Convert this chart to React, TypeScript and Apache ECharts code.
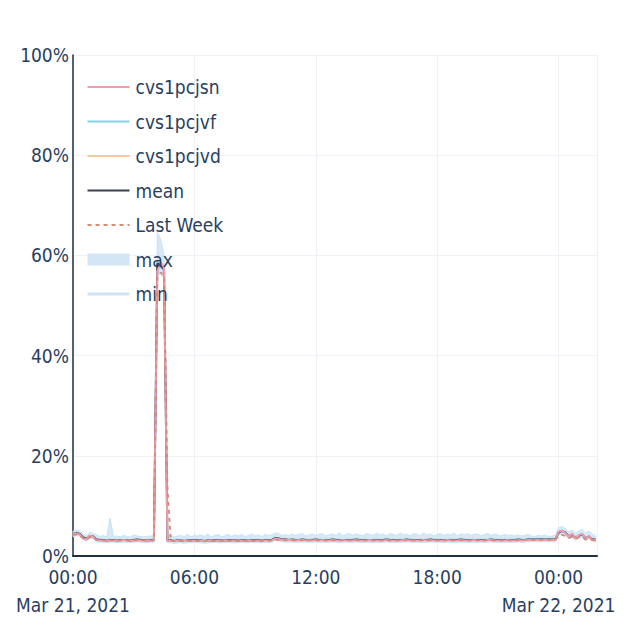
import React, { useEffect, useRef } from "react";
import * as echarts from "echarts";

// Sampling: every 10 minutes starting Mar 21, 2021 00:00 (hours since start)
const STEP_MINUTES = 10;
const X_MAX_HOURS = 25.9;

const xTickLabels: Record<number, string> = {
  0: "00:00\nMar 21, 2021",
  6: "06:00",
  12: "12:00",
  18: "18:00",
  24: "00:00\nMar 22, 2021",
};

const cvs1pcjsn = [
  4.6,4.5,4.3,3.5,3.3,4.1,3.8,3.2,3.1,3.1,3.1,3.1,
  3.1,3.1,3.1,3.2,3.1,3.1,3.1,3.2,3.1,3.1,3.1,3.1,
  3.1,56.8,58.6,57.6,3.0,3.0,3.0,3.0,3.1,3.0,3.0,3.0,
  3.1,3.0,3.0,3.0,3.0,3.1,3.1,3.0,3.0,3.1,3.1,3.0,
  3.0,3.1,3.1,3.0,3.1,3.1,3.0,3.1,3.1,3.1,3.1,3.1,
  3.5,3.4,3.2,3.2,3.2,3.2,3.1,3.2,3.2,3.1,3.2,3.1,
  3.2,3.1,3.2,3.1,3.1,3.2,3.1,3.1,3.2,3.1,3.1,3.1,
  3.2,3.1,3.1,3.1,3.2,3.1,3.1,3.1,3.1,3.2,3.1,3.1,
  3.1,3.1,3.2,3.2,3.1,3.1,3.1,3.1,3.2,3.1,3.2,3.1,
  3.1,3.1,3.1,3.2,3.1,3.1,3.1,3.2,3.1,3.1,3.1,3.2,
  3.1,3.1,3.1,3.2,3.2,3.1,3.1,3.1,3.1,3.2,3.1,3.1,
  3.2,3.1,3.2,3.2,3.2,3.2,3.2,3.2,3.2,3.2,3.2,3.2,
  4.9,5.1,4.6,3.8,4.5,3.5,4.2,4.4,3.4,4.0,3.3,3.1,
];

const cvs1pcjvf = [
  4.3,4.7,4.5,3.8,3.5,3.9,4.0,3.4,3.3,3.3,3.2,3.3,
  3.3,3.2,3.3,3.2,3.3,3.2,3.3,3.3,3.3,3.2,3.2,3.3,
  3.3,59.0,57.6,56.8,3.2,3.2,3.1,3.2,3.2,3.1,3.2,3.2,
  3.2,3.2,3.1,3.1,3.2,3.2,3.2,3.2,3.1,3.2,3.2,3.2,
  3.2,3.2,3.2,3.2,3.1,3.2,3.2,3.2,3.2,3.3,3.2,3.3,
  3.7,3.6,3.3,3.4,3.3,3.3,3.3,3.3,3.3,3.3,3.3,3.3,
  3.3,3.3,3.3,3.3,3.3,3.3,3.3,3.3,3.2,3.3,3.3,3.3,
  3.3,3.3,3.3,3.3,3.2,3.3,3.3,3.3,3.3,3.3,3.3,3.3,
  3.3,3.3,3.3,3.3,3.3,3.3,3.2,3.3,3.3,3.3,3.3,3.3,
  3.3,3.3,3.2,3.3,3.3,3.3,3.3,3.3,3.3,3.3,3.3,3.3,
  3.3,3.3,3.3,3.3,3.3,3.3,3.3,3.3,3.3,3.3,3.3,3.3,
  3.3,3.3,3.3,3.4,3.3,3.3,3.4,3.4,3.3,3.4,3.4,3.4,
  4.5,4.9,4.8,4.0,4.1,3.7,4.0,4.2,3.6,3.8,3.5,3.3,
];

const cvs1pcjvd = [
  4.6,4.6,4.4,3.8,3.4,4.0,3.9,3.3,3.2,3.2,3.1,3.2,
  3.2,3.1,3.2,3.2,3.2,3.1,3.2,3.3,3.2,3.2,3.2,3.2,
  3.2,58.4,57.8,57.4,3.1,3.1,3.1,3.1,3.1,3.1,3.1,3.1,
  3.2,3.1,3.1,3.1,3.1,3.1,3.1,3.1,3.1,3.1,3.1,3.1,
  3.1,3.1,3.1,3.1,3.1,3.1,3.1,3.2,3.1,3.1,3.2,3.2,
  3.6,3.5,3.3,3.3,3.2,3.2,3.2,3.2,3.3,3.2,3.2,3.2,
  3.2,3.2,3.2,3.2,3.2,3.2,3.2,3.2,3.2,3.2,3.2,3.2,
  3.2,3.2,3.2,3.2,3.2,3.2,3.2,3.2,3.2,3.2,3.2,3.2,
  3.2,3.2,3.2,3.2,3.2,3.2,3.2,3.2,3.2,3.2,3.2,3.2,
  3.2,3.2,3.2,3.2,3.2,3.2,3.2,3.2,3.2,3.2,3.2,3.2,
  3.2,3.2,3.2,3.2,3.2,3.2,3.2,3.2,3.2,3.2,3.2,3.2,
  3.3,3.2,3.2,3.3,3.3,3.3,3.3,3.3,3.3,3.3,3.3,3.3,
  4.7,5.0,4.7,3.9,4.3,3.6,4.1,4.3,3.5,3.9,3.4,3.2,
];

const meanValues = [
  4.5,4.6,4.4,3.7,3.4,4.0,3.9,3.3,3.2,3.2,3.1,3.2,
  3.2,3.1,3.2,3.2,3.2,3.1,3.2,3.3,3.2,3.2,3.1,3.2,
  3.2,58.4,58.0,57.2,3.1,3.1,3.0,3.1,3.1,3.0,3.1,3.1,
  3.2,3.1,3.1,3.0,3.1,3.1,3.2,3.1,3.1,3.1,3.2,3.1,
  3.1,3.1,3.2,3.1,3.1,3.2,3.1,3.2,3.1,3.2,3.2,3.2,
  3.6,3.5,3.3,3.3,3.2,3.3,3.2,3.2,3.3,3.2,3.2,3.2,
  3.3,3.2,3.2,3.2,3.2,3.3,3.2,3.2,3.2,3.2,3.2,3.2,
  3.3,3.2,3.2,3.2,3.2,3.2,3.2,3.2,3.2,3.3,3.2,3.2,
  3.2,3.2,3.2,3.3,3.2,3.2,3.2,3.2,3.2,3.2,3.3,3.2,
  3.2,3.2,3.2,3.2,3.2,3.2,3.2,3.3,3.2,3.2,3.2,3.2,
  3.2,3.2,3.2,3.2,3.3,3.2,3.2,3.2,3.2,3.2,3.2,3.2,
  3.3,3.2,3.2,3.3,3.3,3.3,3.3,3.3,3.3,3.3,3.3,3.3,
  4.7,5.0,4.7,3.9,4.3,3.6,4.1,4.3,3.5,3.9,3.4,3.2,
];

const lastWeekValues = [
  4.2,4.3,4.1,3.6,3.3,3.8,3.7,3.2,3.1,3.1,3.1,3.1,
  3.1,3.1,3.1,3.1,3.1,3.1,3.1,3.1,3.1,3.1,3.1,3.1,
  3.1,55.6,56.6,56.0,14.0,3.0,3.0,3.0,3.0,3.0,3.0,3.0,
  3.0,3.0,3.0,3.0,3.0,3.0,3.0,3.0,3.0,3.0,3.0,3.0,
  3.0,3.0,3.0,3.0,3.0,3.0,3.0,3.0,3.1,3.0,3.0,3.1,
  3.2,3.2,3.1,3.1,3.1,3.1,3.1,3.1,3.1,3.1,3.1,3.1,
  3.1,3.1,3.1,3.1,3.1,3.1,3.1,3.1,3.1,3.1,3.1,3.1,
  3.1,3.1,3.1,3.1,3.1,3.1,3.1,3.1,3.1,3.1,3.1,3.1,
  3.1,3.1,3.1,3.1,3.1,3.1,3.1,3.1,3.1,3.1,3.1,3.1,
  3.1,3.1,3.1,3.1,3.1,3.1,3.1,3.1,3.1,3.1,3.1,3.1,
  3.1,3.1,3.1,3.1,3.1,3.1,3.1,3.1,3.1,3.1,3.1,3.1,
  3.1,3.1,3.2,3.2,3.2,3.2,3.2,3.2,3.2,3.2,3.2,3.2,
  4.0,4.2,4.0,3.6,3.8,3.4,3.7,3.8,3.3,3.5,3.2,3.1,
];

const maxValues = [
  5.0,5.2,5.0,4.4,4.0,4.7,4.5,4.2,3.9,4.1,3.8,7.6,
  3.9,4.0,3.8,4.1,3.9,3.8,4.2,4.0,3.9,3.8,3.9,4.0,
  4.1,64.6,63.2,60.2,3.9,4.2,3.8,4.0,4.1,3.9,4.3,3.8,
  4.1,4.0,4.2,3.9,4.4,3.8,4.1,4.3,3.9,4.0,4.4,3.9,
  4.2,4.0,4.3,3.9,4.1,4.4,4.0,4.2,3.9,4.3,4.1,4.2,
  4.6,4.5,4.1,4.3,4.0,4.4,4.1,4.3,4.5,4.0,4.2,4.4,
  4.1,4.3,4.5,4.0,4.2,4.4,4.1,4.6,4.0,4.3,4.5,4.1,
  4.4,4.2,4.0,4.5,4.3,4.1,4.6,4.2,4.4,4.0,4.5,4.3,
  4.1,4.6,4.2,4.4,4.0,4.5,4.3,4.1,4.6,4.2,4.4,4.0,
  4.3,4.5,4.1,4.4,4.2,4.6,4.0,4.4,4.2,4.5,4.1,4.3,
  4.4,4.0,4.3,4.5,4.1,4.4,4.2,4.0,4.3,4.1,4.2,4.0,
  4.2,4.0,4.1,4.3,4.0,3.9,4.1,4.0,4.2,3.9,4.0,4.1,
  5.6,5.9,5.5,4.8,5.2,4.6,5.0,5.3,4.5,5.0,4.4,4.0,
];

const minValues = [
  3.9,4.2,4.0,3.3,3.0,3.6,3.5,2.9,2.8,2.8,2.7,2.8,
  2.8,2.7,2.8,2.8,2.8,2.7,2.8,2.9,2.8,2.8,2.7,2.8,
  2.8,56.4,56.2,55.6,2.7,2.7,2.6,2.7,2.7,2.6,2.7,2.7,
  2.8,2.7,2.7,2.6,2.7,2.7,2.8,2.7,2.7,2.7,2.8,2.7,
  2.7,2.7,2.8,2.7,2.7,2.8,2.7,2.8,2.7,2.8,2.8,2.8,
  3.2,3.1,2.9,2.9,2.8,2.9,2.8,2.8,2.9,2.8,2.8,2.8,
  2.9,2.8,2.8,2.8,2.8,2.9,2.8,2.8,2.8,2.8,2.8,2.8,
  2.9,2.8,2.8,2.8,2.8,2.8,2.8,2.8,2.8,2.9,2.8,2.8,
  2.8,2.8,2.8,2.9,2.8,2.8,2.8,2.8,2.8,2.8,2.9,2.8,
  2.8,2.8,2.8,2.8,2.8,2.8,2.8,2.9,2.8,2.8,2.8,2.8,
  2.8,2.8,2.8,2.8,2.9,2.8,2.8,2.8,2.8,2.8,2.8,2.8,
  2.9,2.8,2.8,2.9,2.9,2.9,2.9,2.9,2.9,2.9,2.9,2.9,
  4.2,4.5,4.2,3.5,3.8,3.2,3.7,3.8,3.1,3.5,3.0,2.8,
];

const FONT = '"DejaVu Sans Condensed", "DejaVu Sans", sans-serif';
const TEXT_COLOR = "#2a3f5f";
const BAND_COLOR = "#d3e6f6";

const hours = meanValues.map((_, i) => (i * STEP_MINUTES) / 60);
const toPairs = (vals: number[]) => vals.map((v, i) => [hours[i], v]);

export default function App() {
  const ref = useRef<HTMLDivElement>(null);
  useEffect(() => {
    document.body.style.margin = "0";
    if (!ref.current) return;
    const chart = echarts.init(ref.current, null, { renderer: "svg" });
    const lineSeries = (name: string, vals: number[], color: string, width: number, dash?: number[]) => ({
      name,
      type: "line",
      data: toPairs(vals),
      showSymbol: false,
      symbol: "none",
      color,
      lineStyle: { color, width, type: dash || "solid" },
      z: 3,
    });
    chart.setOption({
      animation: false,
      backgroundColor: "#ffffff",
      grid: { left: 73, right: 43, top: 55, bottom: 84 },
      legend: {
        orient: "vertical",
        left: 81,
        top: 71,
        itemWidth: 42,
        itemHeight: 12,
        itemGap: 12.5,
        selectedMode: false,
        itemStyle: { opacity: 0 },
        textStyle: {
          fontFamily: FONT,
          fontSize: 19,
          lineHeight: 22,
          color: TEXT_COLOR,
          padding: [0, 0, 0, 1],
        },
        data: [
          { name: "cvs1pcjsn" },
          { name: "cvs1pcjvf" },
          { name: "cvs1pcjvd" },
          { name: "mean" },
          { name: "Last Week" },
          { name: "max", icon: "rect", itemStyle: { color: BAND_COLOR, opacity: 1 } },
          { name: "min", lineStyle: { width: 3 } },
        ],
      },
      xAxis: {
        type: "value",
        min: 0,
        max: X_MAX_HOURS,
        interval: 6,
        axisLine: { show: true, onZero: false, lineStyle: { color: "#1e2f3f", width: 2 } },
        axisTick: { show: false },
        splitLine: { show: true, lineStyle: { color: "#eef1f5", width: 1 } },
        axisLabel: {
          fontFamily: FONT,
          fontSize: 19,
          lineHeight: 28,
          margin: 7,
          color: TEXT_COLOR,
          showMaxLabel: false,
          formatter: (v: number) => xTickLabels[v] ?? "",
        },
      },
      yAxis: {
        type: "value",
        min: 0,
        max: 100,
        interval: 20,
        axisLine: { show: true, lineStyle: { color: "#1e2f3f", width: 1.5 } },
        axisTick: { show: false },
        splitLine: { show: true, lineStyle: { color: "#eef1f5", width: 1 } },
        axisLabel: {
          fontFamily: FONT,
          fontSize: 19,
          margin: 4,
          color: TEXT_COLOR,
          formatter: "{value}%",
        },
      },
      series: [
        {
          name: "max",
          type: "custom",
          data: toPairs(maxValues),
          itemStyle: { color: BAND_COLOR },
          z: 1,
          silent: true,
          renderItem: (params: any, api: any) => {
            if (params.dataIndex !== 0) return null;
            const top = hours.map((h, i) => api.coord([h, maxValues[i]]));
            const bottom = hours.map((h, i) => api.coord([h, minValues[i]])).reverse();
            return {
              type: "polygon",
              shape: { points: top.concat(bottom) },
              style: { fill: "rgba(196,224,245,0.7)", stroke: "rgba(196,224,245,0.9)", lineWidth: 1 },
            };
          },
        },
        {
          name: "min",
          type: "line",
          data: toPairs(minValues),
          showSymbol: false,
          symbol: "none",
          color: "#cfe3f3",
          lineStyle: { color: "#cfe3f3", width: 1.5 },
          z: 2,
        },
        lineSeries("cvs1pcjvd", cvs1pcjvd, "#f6c9a2", 1.5),
        lineSeries("cvs1pcjvf", cvs1pcjvf, "#7fd5e4", 1.5),
        lineSeries("mean", meanValues, "#3a4150", 2),
        lineSeries("cvs1pcjsn", cvs1pcjsn, "#f09db3", 2),
        lineSeries("Last Week", lastWeekValues, "#d98a6e", 1.8, [4, 4]),
      ],
    });
    return () => chart.dispose();
  }, []);
  return <div ref={ref} style={{ width: 640, height: 640 }} />;
}
